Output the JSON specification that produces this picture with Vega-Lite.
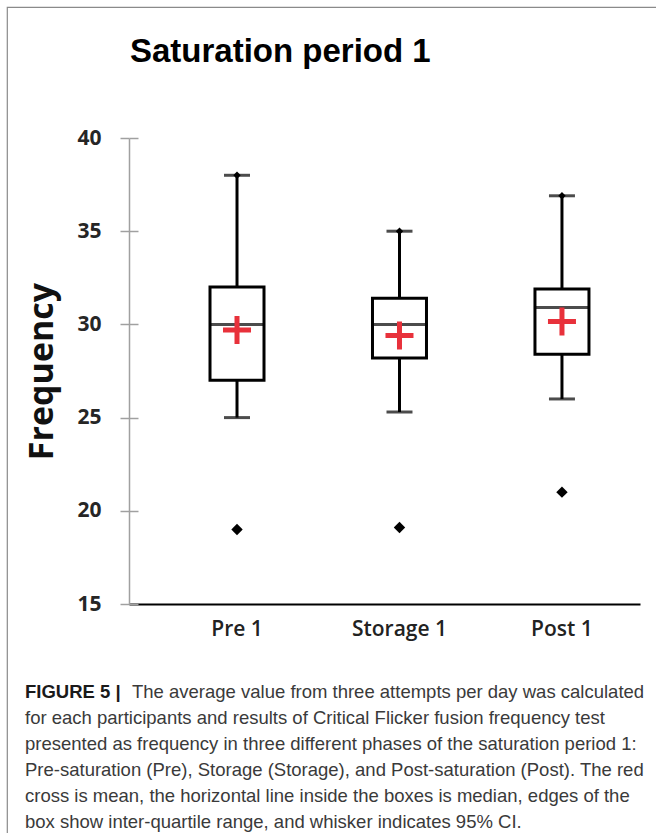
{
  "$schema": "https://vega.github.io/schema/vega-lite/v6.json",
  "width": 650,
  "height": 827,
  "autosize": "none",
  "padding": {"left": 7, "top": 7, "right": -1, "bottom": -1},
  "background": "white",
  "config": {"view": {"stroke": "#8a8a8a", "strokeWidth": 1.2}},
  "title": {
    "text": "Saturation period 1",
    "anchor": "start",
    "frame": "group",
    "orient": "top",
    "offset": -88,
    "baseline": "alphabetic",
    "dx": 123,
    "font": "Liberation Sans",
    "fontSize": 33,
    "fontWeight": "bold",
    "color": "black"
  },
  "datasets": {
    "stats": [
      {"phase": "Pre 1", "lo": 25.0, "q1": 27.0, "median": 30.0, "q3": 32.0, "hi": 38.0, "mean": 29.7, "outlier": 19.0},
      {"phase": "Storage 1", "lo": 25.3, "q1": 28.2, "median": 30.0, "q3": 31.4, "hi": 35.0, "mean": 29.4, "outlier": 19.1},
      {"phase": "Post 1", "lo": 26.0, "q1": 28.4, "median": 30.9, "q3": 31.9, "hi": 36.9, "mean": 30.15, "outlier": 21.0}
    ],
    "capBold": [{"line": 1, "text": "FIGURE 5 |"}],
    "cap1": [{"line": 1, "text": "The average value from three attempts per day was calculated"}],
    "capRest": [
      {"line": 2, "text": "for each participants and results of Critical Flicker fusion frequency test"},
      {"line": 3, "text": "presented as frequency in three different phases of the saturation period 1:"},
      {"line": 4, "text": "Pre-saturation (Pre), Storage (Storage), and Post-saturation (Post). The red"},
      {"line": 5, "text": "cross is mean, the horizontal line inside the boxes is median, edges of the"},
      {"line": 6, "text": "box show inter-quartile range, and whisker indicates 95% CI."}
    ]
  },
  "layer": [
    {
      "data": {"name": "stats"},
      "encoding": {
        "x": {
          "field": "phase",
          "type": "nominal",
          "sort": ["Pre 1", "Storage 1", "Post 1"],
          "scale": {"type": "band", "range": [122, 633], "paddingInner": 0.5, "paddingOuter": 0.3225, "align": 0.643},
          "axis": {
            "orient": "bottom",
            "offset": -230,
            "domainColor": "black",
            "domainWidth": 2,
            "ticks": false,
            "labelFont": "Open Sans",
            "labelFontSize": 21,
            "labelFontWeight": 600,
            "labelColor": "#222222",
            "labelPadding": 14,
            "labelAngle": 0,
            "title": null,
            "grid": false
          }
        }
      },
      "layer": [
        {
          "mark": {"type": "rule", "color": "black", "strokeWidth": 3},
          "encoding": {
            "y": {
              "field": "lo",
              "type": "quantitative",
              "scale": {"domain": [15, 40], "range": [597, 131], "nice": false, "zero": false},
              "axis": {
                "orient": "left",
                "offset": -122,
                "values": [15, 20, 25, 30, 35, 40],
                "domainColor": "#a0a0a0",
                "domainWidth": 1.5,
                "tickColor": "#a0a0a0",
                "tickWidth": 1.5,
                "tickSize": 9,
                "labelFont": "Open Sans",
                "labelFontSize": 21,
                "labelFontWeight": "bold",
                "labelColor": "#262626",
                "labelPadding": 19,
                "title": "Frequency",
                "titleFont": "Open Sans",
                "titleFontSize": 34,
                "titleFontWeight": "bold",
                "titleColor": "#111111",
                "titlePadding": 17,
                "grid": false
              }
            },
            "y2": {"field": "hi"}
          }
        },
        {
          "mark": {"type": "bar", "fill": "white", "stroke": "black", "strokeWidth": 3, "size": 54},
          "encoding": {
            "y": {
              "field": "q1",
              "type": "quantitative",
              "scale": {"domain": [15, 40], "range": [597, 131], "nice": false, "zero": false},
              "axis": {
                "orient": "right",
                "offset": -528,
                "values": [15, 20, 25, 30, 35, 40],
                "labels": false,
                "domain": false,
                "tickColor": "#a0a0a0",
                "tickWidth": 1.5,
                "tickSize": 9,
                "title": null,
                "grid": false
              }
            },
            "y2": {"field": "q3"}
          }
        },
        {
          "mark": {"type": "tick", "color": "black", "thickness": 3, "size": 56},
          "encoding": {"y": {"field": "median", "type": "quantitative", "axis": null}}
        },
        {
          "mark": {"type": "tick", "color": "black", "thickness": 3, "size": 26},
          "encoding": {"y": {"field": "lo", "type": "quantitative", "axis": null}}
        },
        {
          "mark": {"type": "tick", "color": "black", "thickness": 3, "size": 26},
          "encoding": {"y": {"field": "hi", "type": "quantitative", "axis": null}}
        },
        {
          "mark": {"type": "point", "shape": "diamond", "filled": true, "color": "black", "opacity": 1, "size": 55},
          "encoding": {"y": {"field": "hi", "type": "quantitative", "axis": null}}
        },
        {
          "mark": {"type": "point", "shape": "diamond", "filled": true, "color": "black", "opacity": 1, "size": 130},
          "encoding": {"y": {"field": "outlier", "type": "quantitative", "axis": null}}
        },
        {
          "mark": {"type": "point", "shape": "M-1,0L1,0M0,-1L0,1", "filled": false, "stroke": "#e8313b", "strokeWidth": 5, "opacity": 1, "size": 784},
          "encoding": {"y": {"field": "mean", "type": "quantitative", "axis": null}}
        }
      ],
      "resolve": {"axis": {"y": "independent"}}
    },
    {
      "data": {"name": "capBold"},
      "mark": {"type": "text", "align": "left", "baseline": "alphabetic", "font": "Liberation Sans", "fontSize": 18.5, "fontWeight": "bold", "color": "#1a1a1a", "dx": -307},
      "encoding": {
        "y": {"field": "line", "type": "ordinal", "scale": {"type": "point", "domain": [1, 2, 3, 4, 5, 6], "range": [691, 821], "padding": 0}, "axis": null},
        "text": {"field": "text"}
      }
    },
    {
      "data": {"name": "cap1"},
      "mark": {"type": "text", "align": "left", "baseline": "alphabetic", "font": "Liberation Sans", "fontSize": 18.5, "color": "#3a3a3a", "dx": -200},
      "encoding": {
        "y": {"field": "line", "type": "ordinal", "scale": {"type": "point", "domain": [1, 2, 3, 4, 5, 6], "range": [691, 821], "padding": 0}, "axis": null},
        "text": {"field": "text"}
      }
    },
    {
      "data": {"name": "capRest"},
      "mark": {"type": "text", "align": "left", "baseline": "alphabetic", "font": "Liberation Sans", "fontSize": 18.5, "color": "#3a3a3a", "dx": -307},
      "encoding": {
        "y": {"field": "line", "type": "ordinal", "scale": {"type": "point", "domain": [1, 2, 3, 4, 5, 6], "range": [691, 821], "padding": 0}, "axis": null},
        "text": {"field": "text"}
      }
    }
  ],
  "resolve": {"scale": {"y": "independent"}}
}
